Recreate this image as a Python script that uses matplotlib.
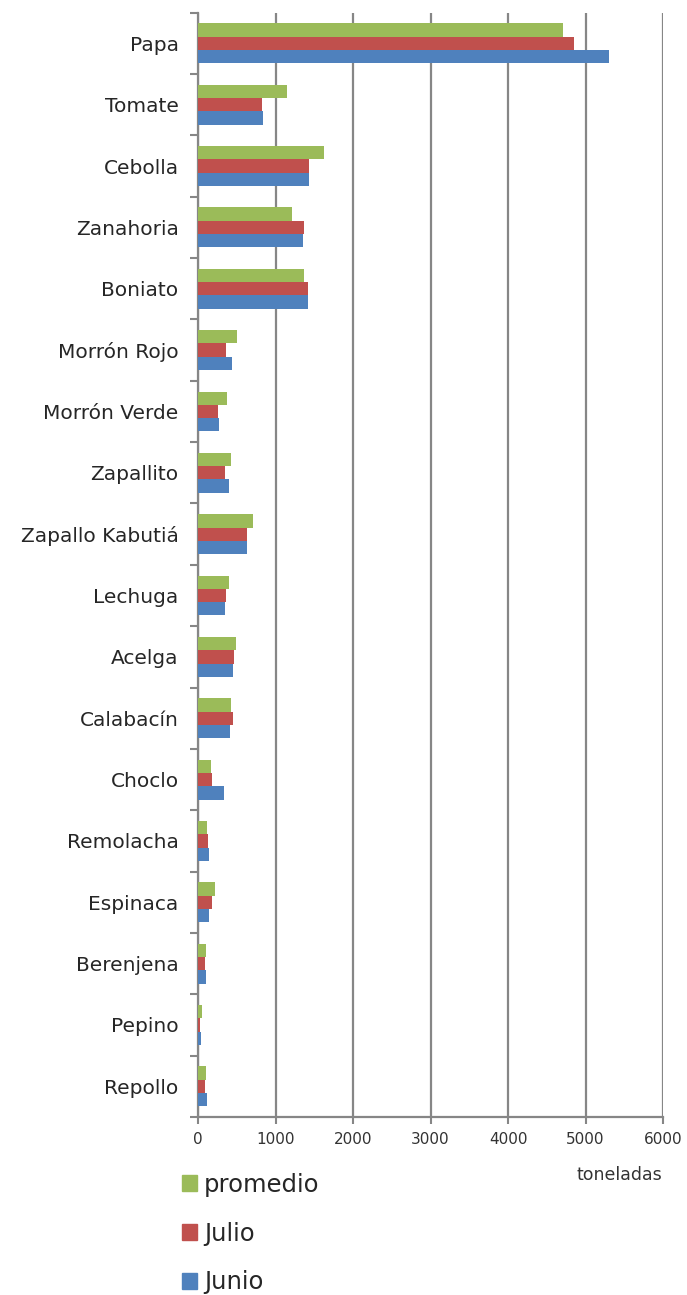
import matplotlib
matplotlib.use("Agg")
import matplotlib.pyplot as plt
import numpy as np
from matplotlib.patches import Patch

categories = ["Papa", "Tomate", "Cebolla", "Zanahoria", "Boniato", "Morrón Rojo",
              "Morrón Verde", "Zapallito", "Zapallo Kabutiá", "Lechuga", "Acelga",
              "Calabacín", "Choclo", "Remolacha", "Espinaca", "Berenjena", "Pepino", "Repollo"]
promedio = [4710, 1144, 1630, 1213, 1372, 503, 370, 426, 706, 400, 490, 422, 172, 112, 224, 99, 52, 99]
julio = [4848, 826, 1436, 1372, 1419, 361, 258, 348, 632, 366, 469, 456, 185, 125, 177, 95, 22, 95]
junio = [5299, 843, 1436, 1351, 1423, 443, 275, 400, 632, 348, 456, 409, 331, 138, 138, 108, 39, 112]
xticks = [0, 1000, 2000, 3000, 4000, 5000, 6000]

plt.rcParams['font.family'] = ['DejaVu Sans']
fig = plt.figure(figsize=(6.87, 12.95), dpi=100)
ax = fig.add_axes([198/687, 1 - 1117/1295, (663-198)/687, (1117-12.7)/1295])

c_green, c_red, c_blue = "#9BBB59", "#C0504D", "#4F81BD"
y = np.arange(len(categories))
h = 0.217
ax.barh(y - h, promedio, height=h, color=c_green, zorder=3)
ax.barh(y, julio, height=h, color=c_red, zorder=3)
ax.barh(y + h, junio, height=h, color=c_blue, zorder=3)

ax.set_ylim(len(categories) - 0.5, -0.5)
ax.set_xlim(0, 6000)
ax.set_xticks(xticks)
ax.set_xticklabels([str(t) for t in xticks], fontsize=11, color="#333333")
ax.set_yticks(y)
ax.set_yticklabels(categories, fontsize=14.5, color="#262626")
ax.set_yticks(np.arange(-0.5, len(categories) + 0.5, 1), minor=True)
ax.tick_params(axis='y', which='major', length=0, pad=14)
ax.tick_params(axis='y', which='minor', length=6, width=1.5, color="#868686", direction='out')
ax.tick_params(axis='x', which='major', length=5, width=1.5, color="#868686", pad=6)

ax.grid(axis='x', color="#868686", linewidth=1.6, zorder=0)
for s in ['top', 'right']:
    ax.spines[s].set_visible(False)
for s in ['left', 'bottom']:
    ax.spines[s].set_color("#868686")
    ax.spines[s].set_linewidth(1.6)

fig.text(619/687, 1 - 1175/1295, "toneladas", fontsize=12.5, color="#333333", ha='center', va='center')

handles = [Patch(color=c_green, label="promedio"), Patch(color=c_red, label="Julio"),
           Patch(color=c_blue, label="Junio")]
leg = fig.legend(handles=handles, loc='upper left', bbox_to_anchor=(172/687, 1 - 1163/1295),
                 frameon=False, fontsize=17.5, handlelength=0.62, handleheight=0.62,
                 handletextpad=0.3, labelspacing=1.02, borderaxespad=0)
for t in leg.get_texts():
    t.set_color("#262626")

fig.savefig("out.png", dpi=100)
